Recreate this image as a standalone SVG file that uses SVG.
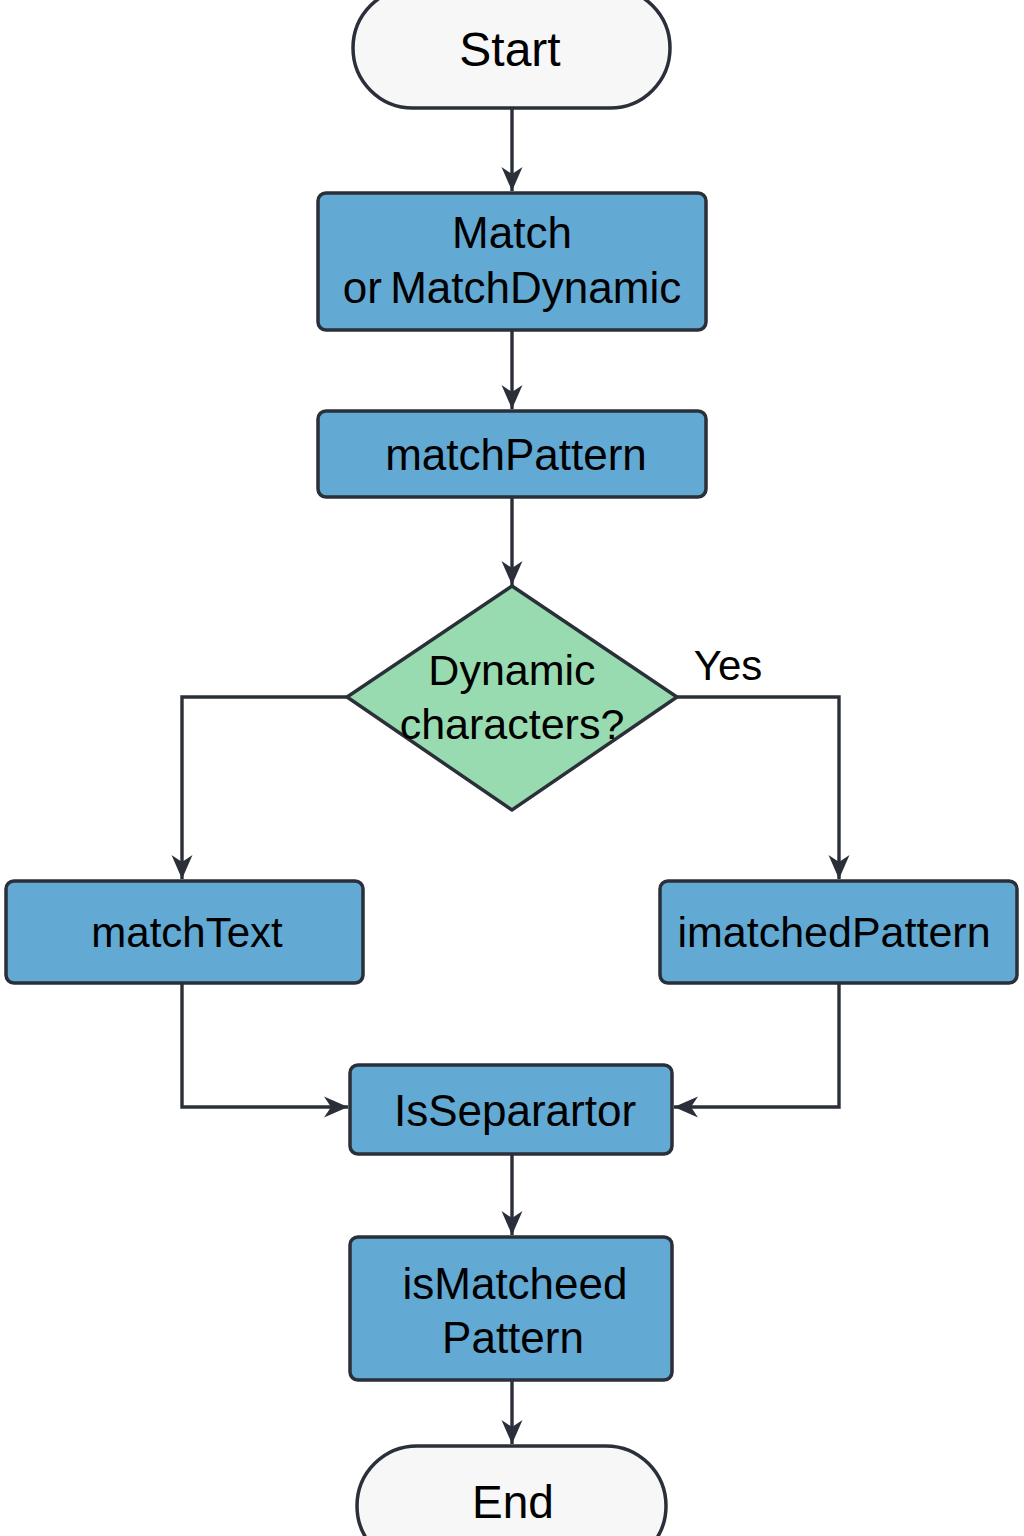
<svg xmlns="http://www.w3.org/2000/svg" width="1024" height="1536" viewBox="0 0 1024 1536">
<defs>
<style>
.box{fill:#62a9d3;stroke:#2a2f39;stroke-width:3.5}
.term{fill:#f7f7f7;stroke:#2a2f39;stroke-width:3.5}
.dec{fill:#98dbb0;stroke:#2a2f39;stroke-width:3.5}
.edge{fill:none;stroke:#2a2f39;stroke-width:3.4;marker-end:url(#arr)}
text{font-family:"Liberation Sans",Arial,sans-serif;fill:#000;text-anchor:middle}
</style>
<marker id="arr" markerUnits="userSpaceOnUse" markerWidth="26" markerHeight="24" viewBox="0 0 26 24" refX="24" refY="12" orient="auto">
<path d="M0,1.5 L24,12 L0,22.5 L7,12 z" fill="#2a2f39"/>
</marker>
</defs>
<rect width="1024" height="1536" fill="#ffffff"/>
<g id="connectors">
<line class="edge" x1="512" y1="108" x2="512" y2="191"/>
<line class="edge" x1="512" y1="330" x2="512" y2="409"/>
<line class="edge" x1="512" y1="497" x2="512" y2="585"/>
<polyline class="edge" points="347,697 182,697 182,879"/>
<polyline class="edge" points="677,697 839,697 839,879"/>
<polyline class="edge" points="182,983 182,1107 348,1107"/>
<polyline class="edge" points="839,983 839,1107 674,1107"/>
<line class="edge" x1="512" y1="1154" x2="512" y2="1235"/>
<line class="edge" x1="512" y1="1380" x2="512" y2="1444"/>
<text x="728" y="680" font-size="42">Yes</text>
</g>
<g id="start">
<rect class="term" x="353" y="-12" width="317" height="120" rx="60"/>
<text x="510" y="66" font-size="48">Start</text>
</g>
<g id="match">
<rect class="box" x="318" y="193" width="388" height="137" rx="8"/>
<text x="512" y="248" font-size="44">Match</text>
<text x="512" y="303" font-size="44" word-spacing="-4">or MatchDynamic</text>
</g>
<g id="matchPattern">
<rect class="box" x="318" y="411" width="388" height="86" rx="8"/>
<text x="516" y="470" font-size="44">matchPattern</text>
</g>
<g id="decision">
<polygon class="dec" points="512,586 677,697 512,810 347,697"/>
<text x="512" y="685" font-size="43">Dynamic</text>
<text x="512" y="739" font-size="43">characters?</text>
</g>
<g id="matchText">
<rect class="box" x="6" y="881" width="357" height="102" rx="8"/>
<text x="187" y="947" font-size="42">matchText</text>
</g>
<g id="imatchedPattern">
<rect class="box" x="660" y="881" width="357" height="102" rx="8"/>
<text x="834" y="947" font-size="43">imatchedPattern</text>
</g>
<g id="isSeparartor">
<rect class="box" x="350" y="1065" width="322" height="89" rx="8"/>
<text x="515" y="1126" font-size="44">IsSeparartor</text>
</g>
<g id="isMatcheedPattern">
<rect class="box" x="350" y="1237" width="322" height="143" rx="8"/>
<text x="515" y="1299" font-size="44">isMatcheed</text>
<text x="513" y="1353" font-size="44">Pattern</text>
</g>
<g id="end">
<rect class="term" x="357" y="1446" width="309" height="120" rx="60"/>
<text x="513" y="1518" font-size="46">End</text>
</g>
</svg>
